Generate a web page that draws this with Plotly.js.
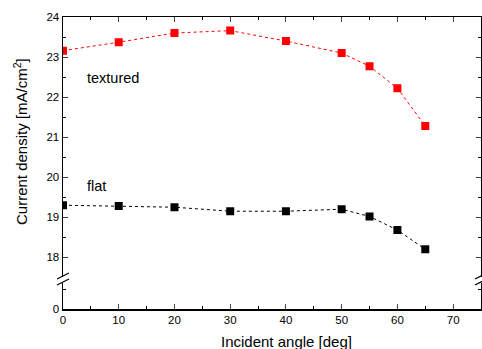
<!DOCTYPE html>
<html><head><meta charset="utf-8">
<script src="https://cdn.plot.ly/plotly-3.0.1.min.js"></script>
<style>html,body{margin:0;padding:0;background:#fff}</style>
</head><body><div id="chart" style="width:482px;height:349px"></div>
<script>
const angles = [0, 10, 20, 30, 40, 50, 55, 60, 65];
const textured = [23.16, 23.37, 23.60, 23.66, 23.40, 23.10, 22.77, 22.22, 21.28];
const flat = [19.30, 19.28, 19.25, 19.15, 19.15, 19.20, 19.02, 18.68, 18.20];
const xTicks = [0, 10, 20, 30, 40, 50, 60, 70];
const yTicksTop = [18, 19, 20, 21, 22, 23, 24];
const yTicksBottom = [0];

const W = 482, H = 349, ml = 63, mr = 1, mt = 17, mb = 40;
const ph = H - mt - mb, pw = W - ml - mr;
const py = y => (H - mb - y) / ph;
const px = x => (x - ml) / pw;

const font = {family: 'Liberation Sans, Arial, sans-serif', color: '#000'};
const f = s => Object.assign({size: s}, font);
const traces = [
  {x: angles, y: textured, xaxis: 'x2', yaxis: 'y', mode: 'lines+markers', name: 'textured',
   line: {color: '#ff0000', width: 1, dash: 'dot'}, marker: {symbol: 'square', size: 8, color: '#ff0000'}},
  {x: angles, y: flat, xaxis: 'x2', yaxis: 'y', mode: 'lines+markers', name: 'flat',
   line: {color: '#000000', width: 1, dash: 'dot'}, marker: {symbol: 'square', size: 8, color: '#000000'}},
  {x: [null], y: [null], xaxis: 'x', yaxis: 'y2', mode: 'markers', hoverinfo: 'skip', showlegend: false}
];

function brk(x0, x1, y0, y1) {
  return {type: 'line', xref: 'paper', yref: 'paper', x0: px(x0), x1: px(x1), y0: py(y0), y1: py(y1),
          line: {color: '#000', width: 1.2}};
}
const minorX = {dtick: 5, tick0: 0, ticks: 'inside', ticklen: 3, tickcolor: '#000', showgrid: false};

const layout = {
  width: W, height: H, margin: {l: ml, r: mr, t: mt, b: mb},
  paper_bgcolor: '#fff', plot_bgcolor: '#fff', showlegend: false,
  font: f(11.5),
  xaxis: {anchor: 'y2', range: [0, 75], tickvals: xTicks, ticks: 'inside', ticklen: 5, tickwidth: 1,
          showline: true, linewidth: 1.5, linecolor: '#000', showgrid: false, zeroline: false,
          minor: minorX, tickfont: f(11.5)},
  xaxis2: {anchor: 'y', side: 'top', range: [0, 75], tickvals: xTicks, ticks: 'inside', ticklen: 5,
           showticklabels: false, showline: true, linewidth: 1.5, linecolor: '#000', showgrid: false, zeroline: false,
           minor: minorX},
  yaxis: {anchor: 'x2', domain: [py(277.3), 1], range: [17.5, 24], tickvals: yTicksTop, ticks: 'inside', ticklen: 5,
          showline: true, linewidth: 1.5, linecolor: '#000', mirror: 'ticks', showgrid: false, zeroline: false,
          minor: {dtick: 0.5, tick0: 0, ticks: 'inside', ticklen: 3, tickcolor: '#000', showgrid: false},
          tickfont: f(11.5)},
  yaxis2: {anchor: 'x', domain: [0, py(283.4)], range: [0, 0.65], tickvals: yTicksBottom, ticks: 'inside', ticklen: 5,
           showline: true, linewidth: 1.5, linecolor: '#000', mirror: 'ticks', showgrid: false, zeroline: false,
           minor: {tickvals: [0.5], ticks: 'inside', ticklen: 3, tickcolor: '#000', showgrid: false},
           tickfont: f(11.5)},
  annotations: [
    {xref: 'x2', yref: 'y', x: 3.9, y: 22.48, text: 'textured', showarrow: false, xanchor: 'left', font: f(14.5)},
    {xref: 'x2', yref: 'y', x: 3.9, y: 19.77, text: 'flat', showarrow: false, xanchor: 'left', font: f(14.5)},
    {xref: 'paper', yref: 'paper', x: px(20), y: py(142), text: 'Current density [mA/cm<sup>2</sup>]', showarrow: false,
     textangle: -90, xanchor: 'center', yanchor: 'middle', font: f(15)},
    {xref: 'paper', yref: 'paper', x: px(286), y: py(342), text: 'Incident angle [deg]', showarrow: false,
     xanchor: 'center', yanchor: 'middle', font: f(15)}
  ],
  shapes: [
    brk(57, 69, 279, 273), brk(57, 69, 285, 279),
    brk(475, 487, 279, 273), brk(475, 487, 285, 279)
  ]
};
Plotly.newPlot('chart', traces, layout, {displayModeBar: false, staticPlot: true});
</script></body></html>
